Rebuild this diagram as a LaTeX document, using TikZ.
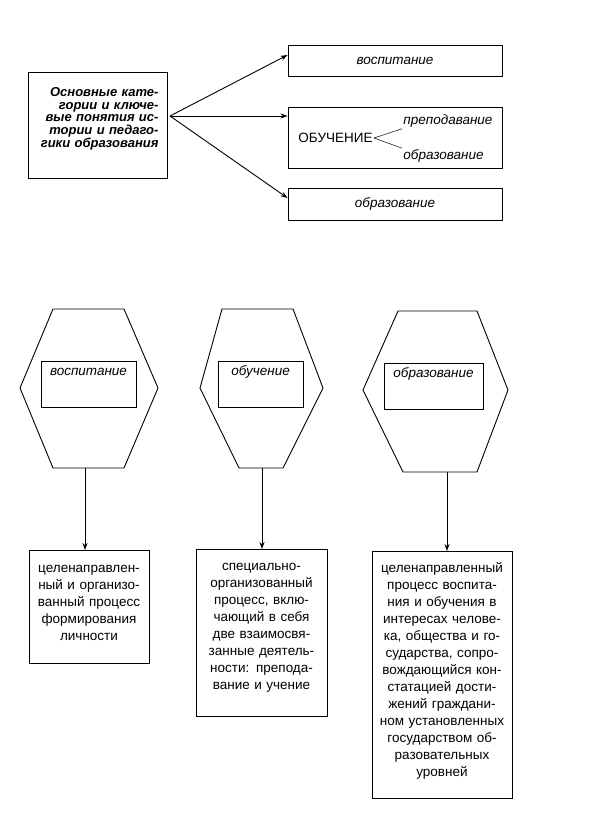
\documentclass[tikz,border=0pt]{standalone}
\usepackage{fontspec}
\setmainfont{Liberation Sans}
\usetikzlibrary{arrows.meta}

\begin{document}
\begin{tikzpicture}[x=1pt, y=-1pt, line width=0.9pt,
        arr/.style={-{Stealth[length=7pt,width=5pt]}},
        catbox/.style={draw, anchor=north, align=right, text width=122pt,
            inner xsep=8.5pt, inner ysep=0pt, text height=24pt, text depth=82pt,
            font=\fontsize{13}{12.7}\selectfont\bfseries\itshape},
        termbox/.style={draw, minimum width=214pt, inner sep=0pt,
            font=\fontsize{13.5}{17}\selectfont\itshape},
        word/.style={inner sep=1pt, anchor=west, font=\fontsize{13.5}{17}\selectfont},
        tagbox/.style={draw, inner xsep=0pt, inner ysep=4pt, text height=10pt, text depth=28pt,
            font=\fontsize{13.5}{17}\selectfont\itshape},
        defbox/.style={draw, anchor=north, align=center, inner xsep=0pt, inner ysep=0pt,
            text height=21.5pt, font=\fontsize{13.5}{17}\selectfont}]
    \useasboundingbox (0,0) rectangle (591,836);

    \node [catbox] (cat) at (97.5,72)
        {Основные кате-\\гории и ключе-\\вые понятия ис-\\тории и педаго-\\гики образования};
    \node [termbox, minimum height=31pt] (vosp) at (395,60.5) {воспитание};
    \node [draw, minimum width=214pt, minimum height=61pt] (obu) at (395,137.5) {};
    \node [termbox, minimum height=32pt] (obr) at (395,204) {образование};
    \node [word] (ob) at (297,138) {ОБУЧЕНИЕ};
    \node [word, font=\fontsize{13.5}{17}\selectfont\itshape] (prep) at (402,121) {преподавание};
    \node [word, font=\fontsize{13.5}{17}\selectfont\itshape] (obz) at (402,156) {образование};
    \draw [line width=0.5pt] (ob.east) -- (prep.south west);
    \draw [line width=0.5pt] (ob.east) -- (obz.north west);

    \coordinate (fan) at (170,116);
    \draw [arr] (fan) -- ([yshift=5.5pt]vosp.west);
    \draw [arr] (fan) -- (fan -| obu.west);
    \draw [arr] (fan) -- ([yshift=6pt]obr.west);

    \draw (53,309) -- (124,309) -- (158,388) -- (124,468) -- (53,468) -- (20,388) -- cycle;
    \draw (222,309) -- (293,309) -- (323,388) -- (283,468) -- (239,468) -- (200,388) -- cycle;
    \draw (398,311) -- (477,311) -- (508,390) -- (477,472) -- (403,472) -- (363,390) -- cycle;
    \node [tagbox, minimum width=95pt] (t1) at (88.5,384) {воспитание};
    \node [tagbox, minimum width=85pt] (t2) at (260.5,384.5) {обучение};
    \node [tagbox, minimum width=99pt] (t3) at (433.5,386) {образование};
    \coordinate (h1) at (85,468);
    \coordinate (h2) at (262,468);
    \coordinate (h3) at (447,472);

    \node [defbox, text width=120pt, text height=22.5pt, text depth=90.5pt] (d1) at (89,550)
        {целенаправлен-\\ный и организо-\\ванный процесс\\формирования\\личности};
    \node [defbox, text width=131pt, text depth=145.5pt] (d2) at (261.5,549)
        {специально-\\организованный\\процесс, вклю-\\чающий в себя\\две взаимосвя-\\занные деятель-\\ности: препода-\\вание и учение};
    \node [defbox, text width=140pt, text depth=225.5pt] (d3) at (442,551)
        {целенаправленный\\процесс воспита-\\ния и обучения в\\интересах челове-\\ка, общества и го-\\сударства, сопро-\\вождающийся кон-\\статацией дости-\\жений граждани-\\ном установленных\\государством об-\\разовательных\\уровней};
    \draw [arr] (h1) -- (h1 |- d1.north);
    \draw [arr] (h2) -- (h2 |- d2.north);
    \draw [arr] (h3) -- (h3 |- d3.north);
\end{tikzpicture}
\end{document}
